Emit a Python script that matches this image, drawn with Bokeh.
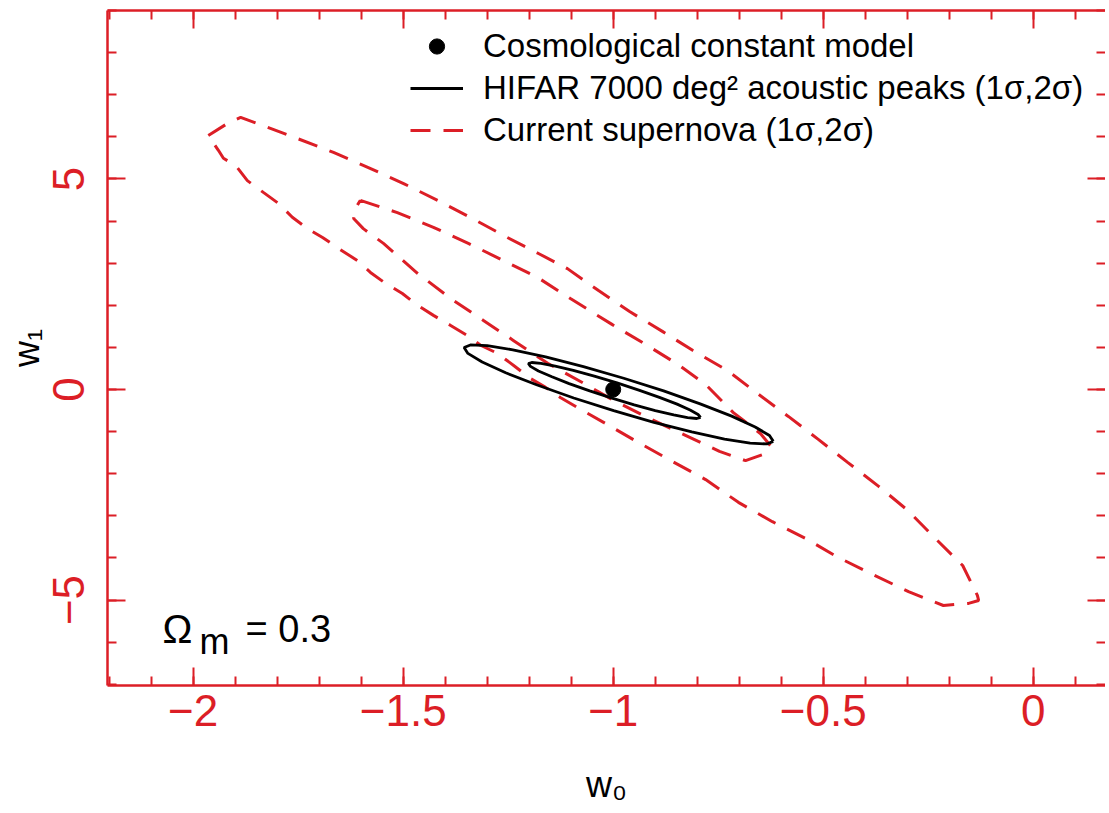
import math
from bokeh.plotting import figure
from bokeh.models import (Range1d, LinearAxis, SingleIntervalTicker, FixedTicker, Label, Legend,
                          LegendItem, CustomJSTickFormatter)
from bokeh.embed import file_html
from bokeh.resources import INLINE

RED = "#dc1e26"
FONT = "Liberation Sans"

# ---------------- data ----------------
lcdm_w0 = [-1.0]
lcdm_w1 = [0.0]

# HIFAR 7000 deg^2 acoustic peaks, 2 sigma contour
hifar2_w0 = [-0.619, -0.634, -0.674, -0.735, -0.813, -0.903, -0.999, -1.094, -1.181, -1.256,
             -1.312, -1.346, -1.355, -1.340, -1.300, -1.239, -1.161, -1.071, -0.975, -0.880,
             -0.793, -0.718, -0.662, -0.628]
hifar2_w1 = [-1.232, -1.294, -1.276, -1.179, -1.009, -0.779, -0.504, -0.203, 0.105, 0.396,
             0.653, 0.857, 0.995, 1.057, 1.039, 0.942, 0.772, 0.542, 0.267, -0.034,
             -0.342, -0.633, -0.890, -1.094]

# HIFAR 1 sigma contour
hifar1_w0 = [-0.792, -0.801, -0.823, -0.856, -0.900, -0.950, -1.003, -1.056, -1.105, -1.146,
             -1.178, -1.197, -1.202, -1.194, -1.172, -1.138, -1.095, -1.045, -0.991, -0.939,
             -0.890, -0.848, -0.817, -0.798]
hifar1_w1 = [-0.664, -0.689, -0.668, -0.604, -0.500, -0.364, -0.205, -0.033, 0.140, 0.301,
             0.440, 0.548, 0.616, 0.641, 0.621, 0.557, 0.453, 0.317, 0.157, -0.015,
             -0.187, -0.348, -0.487, -0.595]

# Current supernova, 2 sigma contour
sn2_w0 = [-1.964, -1.918, -1.887, -1.835, -1.752, -1.666, -1.583, -1.499, -1.418, -1.335,
          -1.252, -1.178, -1.109, -1.035, -0.961, -0.883, -0.811, -0.728, -0.656, -0.583,
          -0.511, -0.442, -0.368, -0.299, -0.235, -0.168, -0.133, -0.130, -0.154,
          -0.214, -0.297, -0.383, -0.464, -0.542, -0.621, -0.702, -0.780, -0.868, -0.940,
          -1.023, -1.085, -1.126, -1.161, -1.197, -1.237, -1.276, -1.316, -1.347, -1.387,
          -1.428, -1.466, -1.502, -1.542, -1.578, -1.609, -1.654, -1.692, -1.728, -1.764,
          -1.797, -1.833, -1.871, -1.899, -1.928, -1.940]
sn2_w1 = [6.03, 6.32, 6.46, 6.27, 5.96, 5.63, 5.27, 4.89, 4.49, 4.06,
          3.61, 3.23, 2.87, 2.35, 1.85, 1.38, 0.93, 0.45, -0.10, -0.64,
          -1.19, -1.73, -2.30, -2.87, -3.52, -4.18, -4.89, -5.01, -5.08,
          -5.13, -4.80, -4.39, -3.99, -3.54, -3.14, -2.68, -2.14, -1.66, -1.26,
          -0.78, -0.43, -0.19, 0.05, 0.26, 0.57, 0.86, 1.05, 1.28, 1.52,
          1.76, 2.00, 2.28, 2.52, 2.78, 3.06, 3.35, 3.61, 3.82, 4.09,
          4.42, 4.68, 4.96, 5.32, 5.49, 5.68]

# Current supernova, 1 sigma contour
sn1_w0 = [-1.602, -1.514, -1.428, -1.345, -1.261, -1.180, -1.102, -1.002, -0.923, -0.845,
          -0.780, -0.714, -0.649, -0.626,
          -0.642, -0.685, -0.747, -0.828, -0.909, -0.999, -1.078, -1.156, -1.237, -1.309,
          -1.387, -1.466, -1.547, -1.595, -1.618, -1.614]
sn1_w1 = [4.49, 4.20, 3.85, 3.47, 3.06, 2.66, 2.16, 1.54, 1.07, 0.59,
          0.12, -0.55, -1.05, -1.33,
          -1.54, -1.69, -1.47, -1.09, -0.71, -0.26, 0.19, 0.62, 1.16, 1.64,
          2.16, 2.76, 3.47, 3.82, 4.06, 4.30]

x_ticks = [-2, -1.5, -1, -0.5, 0]
x_tick_labels = ["\u22122", "\u22121.5", "\u22121", "\u22120.5", "0"]
y_ticks = [-5, 0, 5]
y_tick_labels = ["\u22125", "0", "5"]

legend_labels = ["Cosmological constant model",
                 "HIFAR 7000 deg\u00b2 acoustic peaks (1\u03c3,2\u03c3)",
                 "Current supernova (1\u03c3,2\u03c3)"]
x_title = "w\u2080"
y_title = "w\u2081"


def closed(a):
    return list(a) + list(a[:1])


# ---------------- figure ----------------
p = figure(frame_width=998, frame_height=675,
           x_range=Range1d(-2.204, 0.172), y_range=Range1d(-7.03, 9.0),
           output_backend="svg", toolbar_location=None,
           min_border_left=107, min_border_right=0, min_border_top=10, min_border_bottom=128,
           background_fill_color="white", border_fill_color="white",
           outline_line_color=None)
p.xgrid.visible = False
p.ygrid.visible = False


def style_axis(ax, major_len=18, minor_len=9):
    ax.axis_line_color = RED
    ax.axis_line_width = 2.5
    ax.major_tick_line_color = RED
    ax.minor_tick_line_color = RED
    ax.major_tick_line_width = 2
    ax.minor_tick_line_width = 2
    ax.major_tick_in = major_len
    ax.major_tick_out = 0
    ax.minor_tick_in = minor_len
    ax.minor_tick_out = 0
    ax.major_label_text_color = RED
    ax.major_label_text_font = FONT
    ax.major_label_text_font_size = "44px"


xticker = SingleIntervalTicker(interval=0.5, num_minor_ticks=5)
yticker = SingleIntervalTicker(interval=5, num_minor_ticks=5)

bx = p.xaxis[0]
bx.ticker = xticker
style_axis(bx)
bx.major_label_overrides = dict(zip(x_ticks, x_tick_labels))
bx.major_label_standoff = 9

ly = p.yaxis[0]
ly.ticker = yticker
style_axis(ly)
ly.major_label_overrides = dict(zip(y_ticks, y_tick_labels))
ly.major_label_orientation = "vertical"
ly.major_label_standoff = 23

blank = CustomJSTickFormatter(code="return ''")
top = LinearAxis(ticker=SingleIntervalTicker(interval=0.5, num_minor_ticks=5), formatter=blank)
style_axis(top)
top.major_label_text_font_size = "1px"
top.major_label_standoff = 0
p.add_layout(top, "above")

right = LinearAxis(ticker=SingleIntervalTicker(interval=5, num_minor_ticks=5), formatter=blank)
style_axis(right)
right.axis_line_color = None
right.major_label_text_font_size = "1px"
right.major_label_standoff = 0
p.add_layout(right, "right")


# axis titles carried by tick-less helper axes (placed outside the main axes)
def title_axis(text, standoff):
    return LinearAxis(ticker=FixedTicker(ticks=[]), formatter=blank,
                      axis_line_color=None, major_tick_line_color=None,
                      minor_tick_line_color=None, major_tick_out=0, minor_tick_out=0,
                      major_label_text_font_size="1px", major_label_standoff=0,
                      axis_label=text, axis_label_standoff=standoff,
                      axis_label_text_font=FONT, axis_label_text_font_size="36px",
                      axis_label_text_font_style="normal", axis_label_text_color="black")


p.add_layout(title_axis(x_title, 35), "below")
p.add_layout(title_axis(y_title, 4), "left")

# ---------------- contours ----------------
r_sn2 = p.line(closed(sn2_w0), closed(sn2_w1), line_color=RED, line_width=3, line_dash="20 13")
r_sn1 = p.line(closed(sn1_w0), closed(sn1_w1), line_color=RED, line_width=3, line_dash="20 13")
r_h2 = p.line(closed(hifar2_w0), closed(hifar2_w1), line_color="black", line_width=2.8)
r_h1 = p.line(closed(hifar1_w0), closed(hifar1_w1), line_color="black", line_width=2.8)
r_dot = p.scatter(lcdm_w0, lcdm_w1, size=15, color="black")

# ---------------- legend ----------------
legend = Legend(items=[LegendItem(label=legend_labels[0], renderers=[r_dot]),
                       LegendItem(label=legend_labels[1], renderers=[r_h1]),
                       LegendItem(label=legend_labels[2], renderers=[r_sn1])],
                location=(303, 536))
legend.label_text_font = FONT
legend.label_text_font_size = "33px"
legend.label_text_color = "black"
legend.glyph_width = 53
legend.glyph_height = 38
legend.label_height = 38
legend.label_standoff = 20
legend.spacing = 4
legend.padding = 0
legend.margin = 0
legend.border_line_color = None
legend.background_fill_alpha = 0
p.add_layout(legend)

# ---------------- Omega_m annotation ----------------
def lab(x, y, t, size, align="center"):
    p.add_layout(Label(x=x, y=y, x_units="screen", y_units="screen", text=t,
                       text_font=FONT, text_font_size=size, text_color="black",
                       text_align=align, text_baseline="middle"))

lab(70, 57, "\u03a9", "40px")
lab(107, 44, "m", "36px")
lab(138, 57, "= 0.3", "38px", align="left")

open("out.html", "w").write(file_html(p, INLINE))
